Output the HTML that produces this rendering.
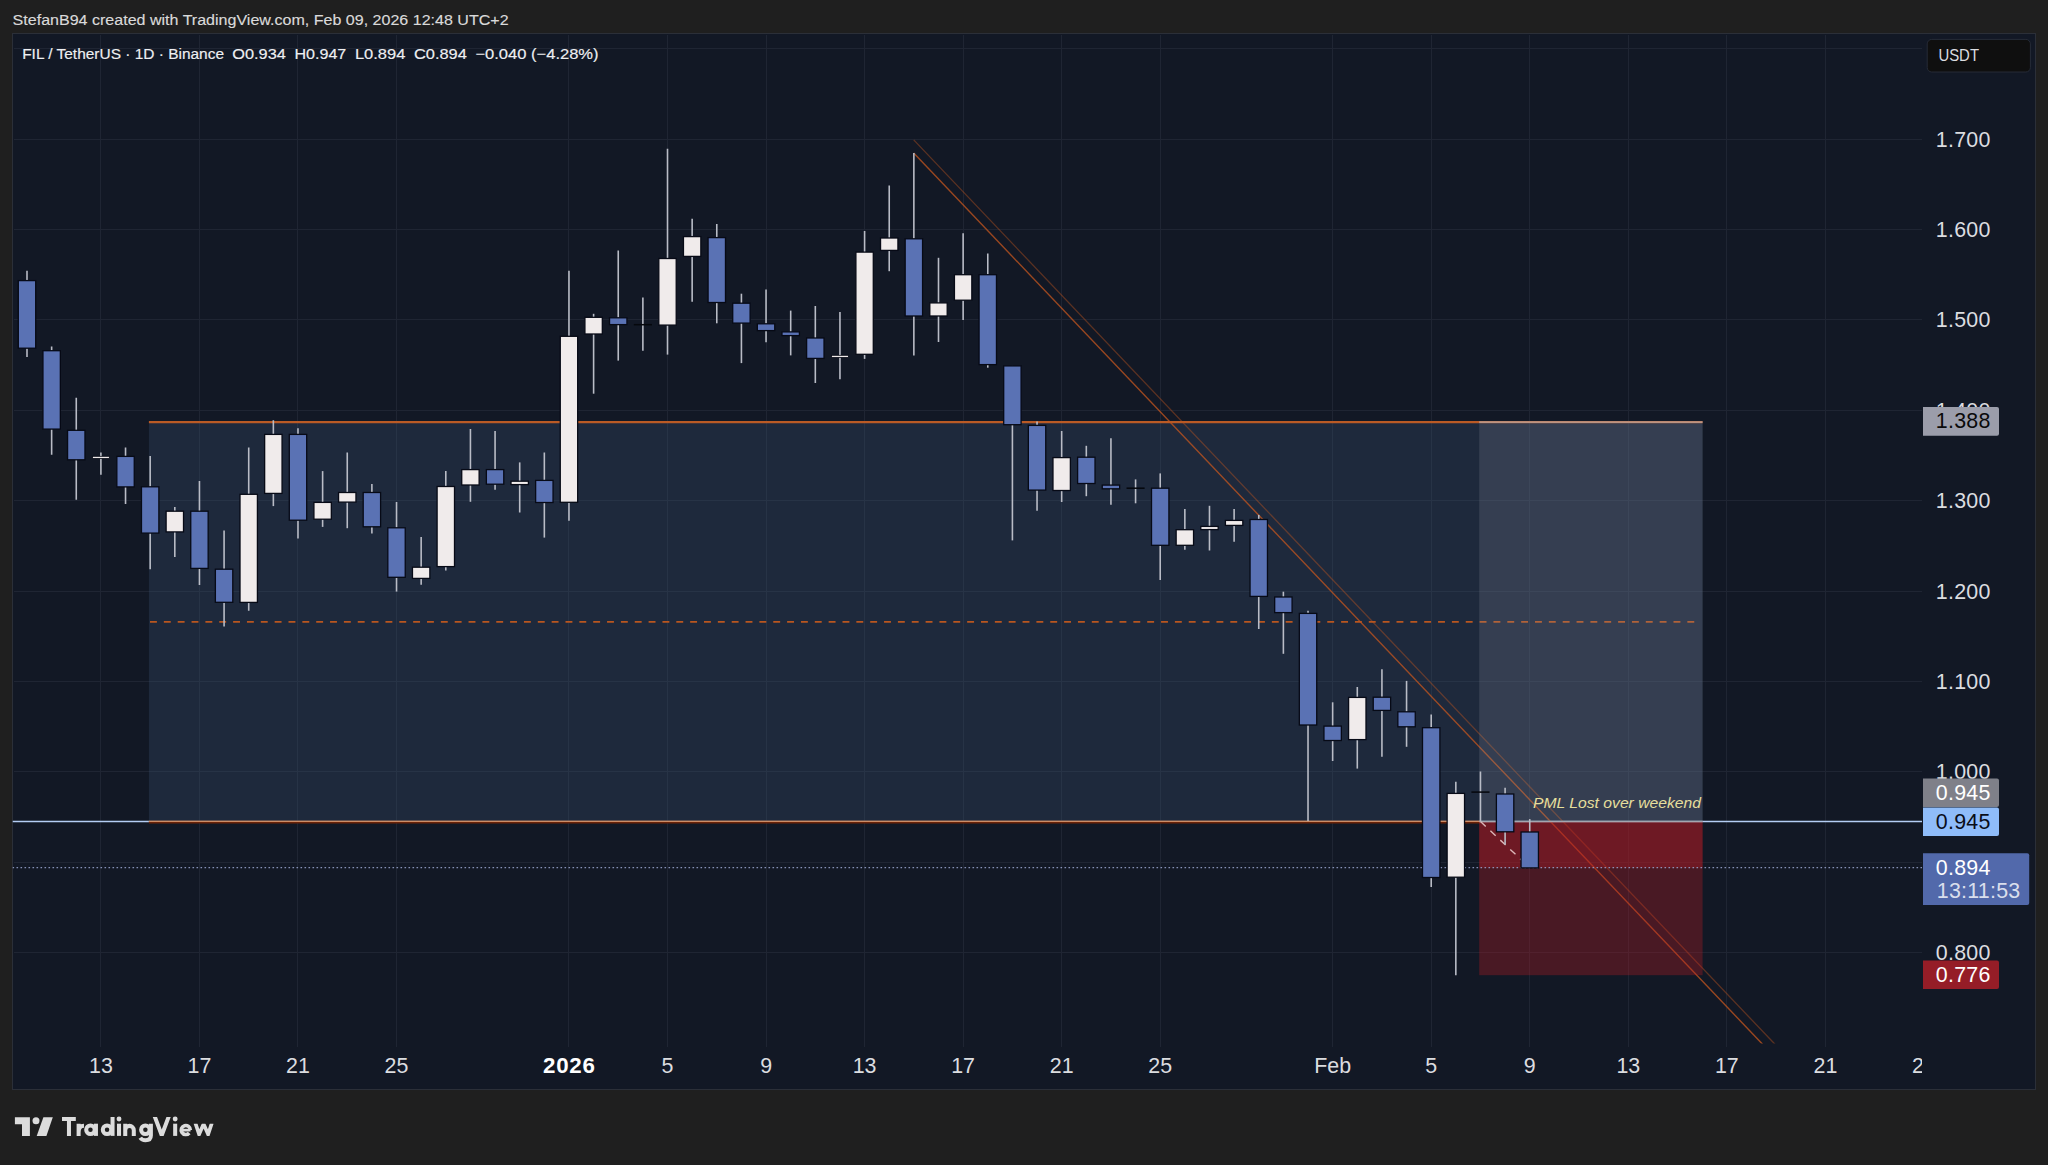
<!DOCTYPE html>
<html><head><meta charset="utf-8"><title>FIL / TetherUS</title>
<style>
html,body{margin:0;padding:0;background:#1f1f1f;}
body{width:2048px;height:1165px;overflow:hidden;position:relative;font-family:"Liberation Sans",sans-serif;}
svg{position:absolute;left:0;top:0;display:block;}
text{font-family:"Liberation Sans",sans-serif;}
</style></head><body>
<svg width="2048" height="1165" viewBox="0 0 2048 1165">
<defs>
<clipPath id="pane"><rect x="12.5" y="33.5" width="1909.5" height="1010.0"/></clipPath>
<clipPath id="taxis"><rect x="12.5" y="1043.5" width="1909.5" height="46.0"/></clipPath>
</defs>
<rect x="12.5" y="33.5" width="2023.0" height="1056.0" fill="#121825" stroke="#2b2f38" stroke-width="1"/>
<g stroke="#1f2533" stroke-width="1" shape-rendering="crispEdges">
<line x1="13.5" y1="48.5" x2="1922.0" y2="48.5"/>
<line x1="13.5" y1="139.5" x2="1922.0" y2="139.5"/>
<line x1="13.5" y1="229.5" x2="1922.0" y2="229.5"/>
<line x1="13.5" y1="319.5" x2="1922.0" y2="319.5"/>
<line x1="13.5" y1="410.5" x2="1922.0" y2="410.5"/>
<line x1="13.5" y1="500.5" x2="1922.0" y2="500.5"/>
<line x1="13.5" y1="591.5" x2="1922.0" y2="591.5"/>
<line x1="13.5" y1="681.5" x2="1922.0" y2="681.5"/>
<line x1="13.5" y1="771.5" x2="1922.0" y2="771.5"/>
<line x1="13.5" y1="862.5" x2="1922.0" y2="862.5"/>
<line x1="13.5" y1="952.5" x2="1922.0" y2="952.5"/>
<line x1="100.5" y1="34.5" x2="100.5" y2="1047.0"/>
<line x1="199.5" y1="34.5" x2="199.5" y2="1047.0"/>
<line x1="297.5" y1="34.5" x2="297.5" y2="1047.0"/>
<line x1="396.5" y1="34.5" x2="396.5" y2="1047.0"/>
<line x1="568.5" y1="34.5" x2="568.5" y2="1047.0"/>
<line x1="667.5" y1="34.5" x2="667.5" y2="1047.0"/>
<line x1="766.5" y1="34.5" x2="766.5" y2="1047.0"/>
<line x1="864.5" y1="34.5" x2="864.5" y2="1047.0"/>
<line x1="963.5" y1="34.5" x2="963.5" y2="1047.0"/>
<line x1="1061.5" y1="34.5" x2="1061.5" y2="1047.0"/>
<line x1="1160.5" y1="34.5" x2="1160.5" y2="1047.0"/>
<line x1="1332.5" y1="34.5" x2="1332.5" y2="1047.0"/>
<line x1="1431.5" y1="34.5" x2="1431.5" y2="1047.0"/>
<line x1="1529.5" y1="34.5" x2="1529.5" y2="1047.0"/>
<line x1="1628.5" y1="34.5" x2="1628.5" y2="1047.0"/>
<line x1="1726.5" y1="34.5" x2="1726.5" y2="1047.0"/>
<line x1="1825.5" y1="34.5" x2="1825.5" y2="1047.0"/>
</g>
<g clip-path="url(#pane)">
<line x1="12.5" y1="821.5" x2="1922.0" y2="821.5" stroke="#b4cdf4" stroke-width="1.4"/>
<rect x="148.9" y="422.1" width="1553.7" height="399.4" fill="#3f5779" fill-opacity="0.27"/>
<line x1="148.9" y1="422.1" x2="1702.6" y2="422.1" stroke="#ba5a25" stroke-width="2.3"/>
<line x1="148.9" y1="822.2" x2="1480.2" y2="822.2" stroke="#6a2207" stroke-width="2.8"/>
<line x1="148.9" y1="821.4" x2="1480.2" y2="821.4" stroke="#cc8c66" stroke-width="1.4"/>
<line x1="150.0" y1="621.8" x2="1697.0" y2="621.8" stroke="#b9561f" stroke-width="1.8" stroke-dasharray="6.9 6.95"/>
<line x1="913.7" y1="152.9" x2="1762.6" y2="1044.3" stroke="#c0551f" stroke-opacity="0.78" stroke-width="1.4"/>
<line x1="913.7" y1="139.9" x2="1775.0" y2="1044.3" stroke="#c0551f" stroke-opacity="0.42" stroke-width="1.3"/>
<rect x="1479.2" y="421.1" width="223.4" height="400.4" fill="#8f95a3" fill-opacity="0.2"/>
<line x1="1479.2" y1="422.1" x2="1702.6" y2="422.1" stroke="#c9ccd6" stroke-opacity="0.45" stroke-width="1.6"/>
<rect x="1479.2" y="821.5" width="223.4" height="153.7" fill="#b81a24" fill-opacity="0.33"/>
<rect x="1479.2" y="821.5" width="223.4" height="46.2" fill="#b81a24" fill-opacity="0.33"/>
<line x1="1479.2" y1="821.5" x2="1702.6" y2="821.5" stroke="#a3a6b0" stroke-width="1.4"/>
<line x1="1480.5" y1="821.5" x2="1529.7" y2="867.7" stroke="#dcb6b8" stroke-width="1.4" stroke-dasharray="7.2 6.4"/>
<line x1="12.5" y1="867.7" x2="1922.0" y2="867.7" stroke="#9aa6cf" stroke-opacity="0.85" stroke-width="1.3" stroke-dasharray="1.6 2.4"/>
</g>
<g clip-path="url(#pane)">
<line x1="27.00" y1="270.8" x2="27.00" y2="356.9" stroke="#b9bcc6" stroke-width="1.6"/>
<rect x="18.30" y="280.6" width="17.4" height="67.6" fill="#5a72b4" stroke="#070a16" stroke-width="1.3"/>
<line x1="51.64" y1="346.5" x2="51.64" y2="454.8" stroke="#b9bcc6" stroke-width="1.6"/>
<rect x="42.94" y="350.7" width="17.4" height="78.4" fill="#5a72b4" stroke="#070a16" stroke-width="1.3"/>
<line x1="76.27" y1="397.7" x2="76.27" y2="499.8" stroke="#b9bcc6" stroke-width="1.6"/>
<rect x="67.57" y="430.3" width="17.4" height="29.5" fill="#5a72b4" stroke="#070a16" stroke-width="1.3"/>
<line x1="100.91" y1="452.5" x2="100.91" y2="474.7" stroke="#b9bcc6" stroke-width="1.6"/>
<rect x="92.45" y="456.3" width="16.9" height="2.2" fill="#f0ebeb" stroke="#070a16" stroke-width="0.8"/>
<line x1="125.54" y1="447.6" x2="125.54" y2="504.0" stroke="#b9bcc6" stroke-width="1.6"/>
<rect x="116.84" y="456.4" width="17.4" height="30.5" fill="#5a72b4" stroke="#070a16" stroke-width="1.3"/>
<line x1="150.18" y1="456.0" x2="150.18" y2="569.3" stroke="#b9bcc6" stroke-width="1.6"/>
<rect x="141.47" y="486.8" width="17.4" height="46.3" fill="#5a72b4" stroke="#070a16" stroke-width="1.3"/>
<line x1="174.81" y1="507.0" x2="174.81" y2="556.9" stroke="#b9bcc6" stroke-width="1.6"/>
<rect x="166.11" y="511.2" width="17.4" height="20.7" fill="#f0ebeb" stroke="#070a16" stroke-width="1.3"/>
<line x1="199.45" y1="480.9" x2="199.45" y2="585.0" stroke="#b9bcc6" stroke-width="1.6"/>
<rect x="190.75" y="511.2" width="17.4" height="57.2" fill="#5a72b4" stroke="#070a16" stroke-width="1.3"/>
<line x1="224.08" y1="530.5" x2="224.08" y2="626.4" stroke="#b9bcc6" stroke-width="1.6"/>
<rect x="215.38" y="569.2" width="17.4" height="33.1" fill="#5a72b4" stroke="#070a16" stroke-width="1.3"/>
<line x1="248.72" y1="447.6" x2="248.72" y2="610.7" stroke="#b9bcc6" stroke-width="1.6"/>
<rect x="240.01" y="494.3" width="17.4" height="108.1" fill="#f0ebeb" stroke="#070a16" stroke-width="1.3"/>
<line x1="273.35" y1="420.2" x2="273.35" y2="506.1" stroke="#b9bcc6" stroke-width="1.6"/>
<rect x="264.65" y="434.4" width="17.4" height="59.0" fill="#f0ebeb" stroke="#070a16" stroke-width="1.3"/>
<line x1="297.99" y1="428.2" x2="297.99" y2="538.5" stroke="#b9bcc6" stroke-width="1.6"/>
<rect x="289.29" y="434.4" width="17.4" height="85.8" fill="#5a72b4" stroke="#070a16" stroke-width="1.3"/>
<line x1="322.62" y1="471.1" x2="322.62" y2="526.9" stroke="#b9bcc6" stroke-width="1.6"/>
<rect x="313.92" y="502.4" width="17.4" height="16.8" fill="#f0ebeb" stroke="#070a16" stroke-width="1.3"/>
<line x1="347.25" y1="452.5" x2="347.25" y2="528.2" stroke="#b9bcc6" stroke-width="1.6"/>
<rect x="338.56" y="492.5" width="17.4" height="9.6" fill="#f0ebeb" stroke="#070a16" stroke-width="1.3"/>
<line x1="371.89" y1="483.9" x2="371.89" y2="533.5" stroke="#b9bcc6" stroke-width="1.6"/>
<rect x="363.19" y="492.5" width="17.4" height="34.3" fill="#5a72b4" stroke="#070a16" stroke-width="1.3"/>
<line x1="396.53" y1="502.0" x2="396.53" y2="591.6" stroke="#b9bcc6" stroke-width="1.6"/>
<rect x="387.83" y="527.8" width="17.4" height="49.5" fill="#5a72b4" stroke="#070a16" stroke-width="1.3"/>
<line x1="421.16" y1="537.0" x2="421.16" y2="584.8" stroke="#b9bcc6" stroke-width="1.6"/>
<rect x="412.46" y="567.2" width="17.4" height="11.2" fill="#f0ebeb" stroke="#070a16" stroke-width="1.3"/>
<line x1="445.80" y1="471.1" x2="445.80" y2="570.6" stroke="#b9bcc6" stroke-width="1.6"/>
<rect x="437.10" y="486.5" width="17.4" height="80.1" fill="#f0ebeb" stroke="#070a16" stroke-width="1.3"/>
<line x1="470.43" y1="429.0" x2="470.43" y2="501.8" stroke="#b9bcc6" stroke-width="1.6"/>
<rect x="461.73" y="469.6" width="17.4" height="15.4" fill="#f0ebeb" stroke="#070a16" stroke-width="1.3"/>
<line x1="495.07" y1="430.9" x2="495.07" y2="489.8" stroke="#b9bcc6" stroke-width="1.6"/>
<rect x="486.37" y="469.6" width="17.4" height="14.6" fill="#5a72b4" stroke="#070a16" stroke-width="1.3"/>
<line x1="519.70" y1="462.4" x2="519.70" y2="512.5" stroke="#b9bcc6" stroke-width="1.6"/>
<rect x="511.00" y="481.2" width="17.4" height="3.4" fill="#f0ebeb" stroke="#070a16" stroke-width="1.3"/>
<line x1="544.34" y1="452.5" x2="544.34" y2="537.6" stroke="#b9bcc6" stroke-width="1.6"/>
<rect x="535.64" y="480.4" width="17.4" height="22.1" fill="#5a72b4" stroke="#070a16" stroke-width="1.3"/>
<line x1="568.97" y1="270.8" x2="568.97" y2="520.8" stroke="#b9bcc6" stroke-width="1.6"/>
<rect x="560.27" y="336.3" width="17.4" height="166.0" fill="#f0ebeb" stroke="#070a16" stroke-width="1.3"/>
<line x1="593.61" y1="313.8" x2="593.61" y2="393.7" stroke="#b9bcc6" stroke-width="1.6"/>
<rect x="584.91" y="317.3" width="17.4" height="16.7" fill="#f0ebeb" stroke="#070a16" stroke-width="1.3"/>
<line x1="618.24" y1="250.4" x2="618.24" y2="360.6" stroke="#b9bcc6" stroke-width="1.6"/>
<rect x="609.54" y="317.8" width="17.4" height="6.8" fill="#5a72b4" stroke="#070a16" stroke-width="1.3"/>
<line x1="642.88" y1="297.6" x2="642.88" y2="350.8" stroke="#b9bcc6" stroke-width="1.6"/>
<line x1="633.83" y1="324.7" x2="651.92" y2="324.7" stroke="#05070c" stroke-width="1.5"/>
<line x1="667.51" y1="148.7" x2="667.51" y2="354.6" stroke="#b9bcc6" stroke-width="1.6"/>
<rect x="658.81" y="258.5" width="17.4" height="66.6" fill="#f0ebeb" stroke="#070a16" stroke-width="1.3"/>
<line x1="692.15" y1="218.7" x2="692.15" y2="301.8" stroke="#b9bcc6" stroke-width="1.6"/>
<rect x="683.45" y="236.6" width="17.4" height="19.8" fill="#f0ebeb" stroke="#070a16" stroke-width="1.3"/>
<line x1="716.78" y1="224.0" x2="716.78" y2="323.3" stroke="#b9bcc6" stroke-width="1.6"/>
<rect x="708.08" y="237.6" width="17.4" height="64.9" fill="#5a72b4" stroke="#070a16" stroke-width="1.3"/>
<line x1="741.42" y1="293.7" x2="741.42" y2="363.1" stroke="#b9bcc6" stroke-width="1.6"/>
<rect x="732.72" y="303.2" width="17.4" height="19.9" fill="#5a72b4" stroke="#070a16" stroke-width="1.3"/>
<line x1="766.05" y1="289.5" x2="766.05" y2="342.3" stroke="#b9bcc6" stroke-width="1.6"/>
<rect x="757.35" y="323.8" width="17.4" height="6.8" fill="#5a72b4" stroke="#070a16" stroke-width="1.3"/>
<line x1="790.69" y1="310.6" x2="790.69" y2="355.4" stroke="#b9bcc6" stroke-width="1.6"/>
<rect x="781.99" y="331.9" width="17.4" height="3.7" fill="#5a72b4" stroke="#070a16" stroke-width="1.3"/>
<line x1="815.32" y1="306.0" x2="815.32" y2="383.0" stroke="#b9bcc6" stroke-width="1.6"/>
<rect x="806.62" y="338.0" width="17.4" height="20.4" fill="#5a72b4" stroke="#070a16" stroke-width="1.3"/>
<line x1="839.96" y1="312.0" x2="839.96" y2="379.3" stroke="#b9bcc6" stroke-width="1.6"/>
<rect x="831.51" y="355.3" width="16.9" height="2.2" fill="#f0ebeb" stroke="#070a16" stroke-width="0.8"/>
<line x1="864.59" y1="231.0" x2="864.59" y2="358.9" stroke="#b9bcc6" stroke-width="1.6"/>
<rect x="855.89" y="252.1" width="17.4" height="102.2" fill="#f0ebeb" stroke="#070a16" stroke-width="1.3"/>
<line x1="889.23" y1="185.6" x2="889.23" y2="271.2" stroke="#b9bcc6" stroke-width="1.6"/>
<rect x="880.53" y="238.0" width="17.4" height="12.4" fill="#f0ebeb" stroke="#070a16" stroke-width="1.3"/>
<line x1="913.86" y1="152.9" x2="913.86" y2="355.4" stroke="#b9bcc6" stroke-width="1.6"/>
<rect x="905.16" y="238.8" width="17.4" height="77.2" fill="#5a72b4" stroke="#070a16" stroke-width="1.3"/>
<line x1="938.50" y1="257.8" x2="938.50" y2="342.0" stroke="#b9bcc6" stroke-width="1.6"/>
<rect x="929.80" y="302.9" width="17.4" height="13.1" fill="#f0ebeb" stroke="#070a16" stroke-width="1.3"/>
<line x1="963.13" y1="233.2" x2="963.13" y2="320.1" stroke="#b9bcc6" stroke-width="1.6"/>
<rect x="954.43" y="274.7" width="17.4" height="25.5" fill="#f0ebeb" stroke="#070a16" stroke-width="1.3"/>
<line x1="987.77" y1="253.6" x2="987.77" y2="367.7" stroke="#b9bcc6" stroke-width="1.6"/>
<rect x="979.07" y="274.7" width="17.4" height="89.9" fill="#5a72b4" stroke="#070a16" stroke-width="1.3"/>
<line x1="1012.40" y1="365.9" x2="1012.40" y2="540.4" stroke="#b9bcc6" stroke-width="1.6"/>
<rect x="1003.70" y="365.9" width="17.4" height="58.8" fill="#5a72b4" stroke="#070a16" stroke-width="1.3"/>
<line x1="1037.04" y1="421.4" x2="1037.04" y2="510.8" stroke="#b9bcc6" stroke-width="1.6"/>
<rect x="1028.34" y="425.4" width="17.4" height="64.7" fill="#5a72b4" stroke="#070a16" stroke-width="1.3"/>
<line x1="1061.67" y1="431.0" x2="1061.67" y2="502.0" stroke="#b9bcc6" stroke-width="1.6"/>
<rect x="1052.97" y="457.6" width="17.4" height="32.9" fill="#f0ebeb" stroke="#070a16" stroke-width="1.3"/>
<line x1="1086.31" y1="445.8" x2="1086.31" y2="496.2" stroke="#b9bcc6" stroke-width="1.6"/>
<rect x="1077.61" y="457.2" width="17.4" height="26.3" fill="#5a72b4" stroke="#070a16" stroke-width="1.3"/>
<line x1="1110.94" y1="438.2" x2="1110.94" y2="504.7" stroke="#b9bcc6" stroke-width="1.6"/>
<rect x="1102.24" y="485.1" width="17.4" height="3.7" fill="#5a72b4" stroke="#070a16" stroke-width="1.3"/>
<line x1="1135.58" y1="479.4" x2="1135.58" y2="503.3" stroke="#b9bcc6" stroke-width="1.6"/>
<line x1="1126.53" y1="488.2" x2="1144.62" y2="488.2" stroke="#05070c" stroke-width="1.5"/>
<line x1="1160.21" y1="473.4" x2="1160.21" y2="580.0" stroke="#b9bcc6" stroke-width="1.6"/>
<rect x="1151.51" y="488.2" width="17.4" height="57.1" fill="#5a72b4" stroke="#070a16" stroke-width="1.3"/>
<line x1="1184.85" y1="508.9" x2="1184.85" y2="549.8" stroke="#b9bcc6" stroke-width="1.6"/>
<rect x="1176.14" y="529.7" width="17.4" height="15.6" fill="#f0ebeb" stroke="#070a16" stroke-width="1.3"/>
<line x1="1209.48" y1="505.8" x2="1209.48" y2="550.5" stroke="#b9bcc6" stroke-width="1.6"/>
<rect x="1200.78" y="526.4" width="17.4" height="3.2" fill="#f0ebeb" stroke="#070a16" stroke-width="1.3"/>
<line x1="1234.12" y1="508.9" x2="1234.12" y2="541.7" stroke="#b9bcc6" stroke-width="1.6"/>
<rect x="1225.41" y="520.4" width="17.4" height="5.0" fill="#f0ebeb" stroke="#070a16" stroke-width="1.3"/>
<line x1="1258.75" y1="514.9" x2="1258.75" y2="629.0" stroke="#b9bcc6" stroke-width="1.6"/>
<rect x="1250.05" y="519.5" width="17.4" height="76.9" fill="#5a72b4" stroke="#070a16" stroke-width="1.3"/>
<line x1="1283.38" y1="591.7" x2="1283.38" y2="653.8" stroke="#b9bcc6" stroke-width="1.6"/>
<rect x="1274.68" y="597.0" width="17.4" height="15.6" fill="#5a72b4" stroke="#070a16" stroke-width="1.3"/>
<line x1="1308.02" y1="610.8" x2="1308.02" y2="821.0" stroke="#b9bcc6" stroke-width="1.6"/>
<rect x="1299.32" y="613.4" width="17.4" height="111.6" fill="#5a72b4" stroke="#070a16" stroke-width="1.3"/>
<line x1="1332.65" y1="702.3" x2="1332.65" y2="761.0" stroke="#b9bcc6" stroke-width="1.6"/>
<rect x="1323.95" y="726.1" width="17.4" height="14.4" fill="#5a72b4" stroke="#070a16" stroke-width="1.3"/>
<line x1="1357.29" y1="687.0" x2="1357.29" y2="768.6" stroke="#b9bcc6" stroke-width="1.6"/>
<rect x="1348.59" y="697.4" width="17.4" height="42.2" fill="#f0ebeb" stroke="#070a16" stroke-width="1.3"/>
<line x1="1381.93" y1="669.2" x2="1381.93" y2="756.7" stroke="#b9bcc6" stroke-width="1.6"/>
<rect x="1373.23" y="697.2" width="17.4" height="13.2" fill="#5a72b4" stroke="#070a16" stroke-width="1.3"/>
<line x1="1406.56" y1="680.9" x2="1406.56" y2="746.8" stroke="#b9bcc6" stroke-width="1.6"/>
<rect x="1397.86" y="711.8" width="17.4" height="15.0" fill="#5a72b4" stroke="#070a16" stroke-width="1.3"/>
<line x1="1431.20" y1="714.6" x2="1431.20" y2="887.1" stroke="#b9bcc6" stroke-width="1.6"/>
<rect x="1422.50" y="727.7" width="17.4" height="149.8" fill="#5a72b4" stroke="#070a16" stroke-width="1.3"/>
<line x1="1455.83" y1="781.7" x2="1455.83" y2="975.2" stroke="#b9bcc6" stroke-width="1.6"/>
<rect x="1447.13" y="793.4" width="17.4" height="83.8" fill="#f0ebeb" stroke="#070a16" stroke-width="1.3"/>
<line x1="1480.47" y1="771.5" x2="1480.47" y2="821.4" stroke="#b9bcc6" stroke-width="1.6"/>
<line x1="1471.42" y1="792.1" x2="1489.52" y2="792.1" stroke="#05070c" stroke-width="1.5"/>
<line x1="1505.10" y1="787.8" x2="1505.10" y2="844.4" stroke="#b9bcc6" stroke-width="1.6"/>
<rect x="1496.40" y="794.0" width="17.4" height="37.8" fill="#5a72b4" stroke="#070a16" stroke-width="1.3"/>
<line x1="1529.74" y1="819.1" x2="1529.74" y2="867.8" stroke="#b9bcc6" stroke-width="1.6"/>
<rect x="1521.04" y="832.0" width="17.4" height="35.9" fill="#5a72b4" stroke="#070a16" stroke-width="1.3"/>
</g>
<text x="1533" y="808" font-size="15.4" font-style="italic" fill="#e6df9c" textLength="168" lengthAdjust="spacingAndGlyphs">PML Lost over weekend</text>
<text x="1935.8" y="146.5" font-size="21.4" letter-spacing="0.25" fill="#dcdde0" >1.700</text>
<text x="1935.8" y="236.9" font-size="21.4" letter-spacing="0.25" fill="#dcdde0" >1.600</text>
<text x="1935.8" y="327.3" font-size="21.4" letter-spacing="0.25" fill="#dcdde0" >1.500</text>
<text x="1935.8" y="417.7" font-size="21.4" letter-spacing="0.25" fill="#dcdde0" >1.400</text>
<text x="1935.8" y="508.1" font-size="21.4" letter-spacing="0.25" fill="#dcdde0" >1.300</text>
<text x="1935.8" y="598.5" font-size="21.4" letter-spacing="0.25" fill="#dcdde0" >1.200</text>
<text x="1935.8" y="688.9" font-size="21.4" letter-spacing="0.25" fill="#dcdde0" >1.100</text>
<text x="1935.8" y="779.3" font-size="21.4" letter-spacing="0.25" fill="#dcdde0" >1.000</text>
<text x="1935.8" y="960.1" font-size="21.4" letter-spacing="0.25" fill="#dcdde0" >0.800</text>
<path d="M1923.0 407.0 H1997.0 a2 2 0 0 1 2 2 V433.8 a2 2 0 0 1 -2 2 H1923.0 Z" fill="#9b9daa"/>
<text x="1935.8" y="428.0" font-size="21.4" letter-spacing="0.25" fill="#0a0a0a" >1.388</text>
<path d="M1923.0 778.5 H1997.0 a2 2 0 0 1 2 2 V805.0 a2 2 0 0 1 -2 2 H1923.0 Z" fill="#7f8089"/>
<text x="1935.8" y="800.2" font-size="21.4" letter-spacing="0.25" fill="#ffffff" >0.945</text>
<path d="M1923.0 807.4 H1997.0 a2 2 0 0 1 2 2 V834.0 a2 2 0 0 1 -2 2 H1923.0 Z" fill="#8fbcf9"/>
<text x="1935.8" y="828.6" font-size="21.4" letter-spacing="0.25" fill="#0a0d18" >0.945</text>
<path d="M1923.0 853.2 H2027.2 a2 2 0 0 1 2 2 V903.0 a2 2 0 0 1 -2 2 H1923.0 Z" fill="#5269ab"/>
<text x="1935.8" y="874.6" font-size="21.4" letter-spacing="0.25" fill="#ffffff" >0.894</text>
<text x="1936.8" y="897.8" font-size="21.4" letter-spacing="0.25" fill="#ffffff" fill-opacity="0.8">13:11:53</text>
<path d="M1923.0 960.6 H1997.0 a2 2 0 0 1 2 2 V987.0 a2 2 0 0 1 -2 2 H1923.0 Z" fill="#951d27"/>
<text x="1935.8" y="981.6" font-size="21.4" letter-spacing="0.25" fill="#ffffff" >0.776</text>
<rect x="1927.2" y="39.4" width="103.2" height="32.6" rx="4.5" fill="#0f0f0f" stroke="#262b37" stroke-width="1"/>
<text x="1938.4" y="61.0" font-size="16.4" fill="#dcdde0" textLength="40.6" lengthAdjust="spacingAndGlyphs">USDT</text>
<g clip-path="url(#taxis)" font-size="21.4" fill="#dcdde0" text-anchor="middle">
<text x="100.9" y="1073.1">13</text>
<text x="199.4" y="1073.1">17</text>
<text x="298.0" y="1073.1">21</text>
<text x="396.5" y="1073.1">25</text>
<text x="569.3" y="1073.1" font-weight="bold" font-size="22.3" letter-spacing="0.7" fill="#ffffff">2026</text>
<text x="667.5" y="1073.1">5</text>
<text x="766.1" y="1073.1">9</text>
<text x="864.6" y="1073.1">13</text>
<text x="963.1" y="1073.1">17</text>
<text x="1061.7" y="1073.1">21</text>
<text x="1160.2" y="1073.1">25</text>
<text x="1332.7" y="1073.1">Feb</text>
<text x="1431.2" y="1073.1">5</text>
<text x="1529.7" y="1073.1">9</text>
<text x="1628.3" y="1073.1">13</text>
<text x="1726.8" y="1073.1">17</text>
<text x="1825.4" y="1073.1">21</text>
<text x="1923.9" y="1073.1">25</text>
</g>
<text x="12.6" y="25.1" font-size="15.5" fill="#dadada" stroke="#dadada" stroke-width="0.15" textLength="496" lengthAdjust="spacingAndGlyphs">StefanB94 created with TradingView.com, Feb 09, 2026 12:48 UTC+2</text>
<text x="22.2" y="59.2" font-size="14.9" fill="#eeeff2" stroke="#eeeff2" stroke-width="0.15" textLength="201.8" lengthAdjust="spacingAndGlyphs">FIL / TetherUS · 1D · Binance</text>
<text x="232.3" y="59.2" font-size="14.9" fill="#eeeff2" stroke="#eeeff2" stroke-width="0.15" textLength="53.5" lengthAdjust="spacingAndGlyphs">O0.934</text>
<text x="294.4" y="59.2" font-size="14.9" fill="#eeeff2" stroke="#eeeff2" stroke-width="0.15" textLength="51.9" lengthAdjust="spacingAndGlyphs">H0.947</text>
<text x="354.9" y="59.2" font-size="14.9" fill="#eeeff2" stroke="#eeeff2" stroke-width="0.15" textLength="50.5" lengthAdjust="spacingAndGlyphs">L0.894</text>
<text x="414.0" y="59.2" font-size="14.9" fill="#eeeff2" stroke="#eeeff2" stroke-width="0.15" textLength="52.8" lengthAdjust="spacingAndGlyphs">C0.894</text>
<text x="475.4" y="59.2" font-size="14.9" fill="#eeeff2" stroke="#eeeff2" stroke-width="0.15" textLength="123.2" lengthAdjust="spacingAndGlyphs">−0.040 (−4.28%)</text>
<g fill="#dcdcdc">
<path d="M14.9 1117.2 H29.9 V1135.9 H22.0 V1124.3 H14.9 Z"/>
<circle cx="36.0" cy="1120.8" r="3.5"/>
<path d="M43.4 1117.2 H52.8 L46.4 1135.9 H36.7 Z"/>
</g>
<defs><clipPath id="capclip"><rect x="1200" y="180" width="260" height="155"/></clipPath><clipPath id="xclip"><rect x="1560" y="235" width="220" height="100"/></clipPath></defs>
<g transform="translate(0,1095) scale(0.1220703)" fill="none" stroke="#dcdcdc" stroke-width="33" stroke-linecap="butt" stroke-linejoin="miter" stroke-miterlimit="10">
<path d="M508 196.5 H621 M565 180 V335"/>
<path d="M644 235 V335 M644 305 C644 268 660 252 688 252"/>
<circle cx="741" cy="285" r="35"/><path d="M786 235 V335"/>
<circle cx="877" cy="285" r="35"/><path d="M922 180 V335"/>
<path d="M975 235 V335"/><circle cx="975" cy="197" r="20" fill="#dcdcdc" stroke="none"/>
<path d="M1026 235 V335 M1026 295 V288 a35 35 0 0 1 70 0 V335"/>
<circle cx="1191" cy="285" r="35"/><path d="M1236 235 V332 C1236 360 1218 371 1192 371 C1172 371 1158 364 1149 350"/>
<g clip-path="url(#capclip)"><path d="M1267 175 L1325 330 L1383 175"/></g>
<path d="M1435 235 V335"/><circle cx="1435" cy="197" r="20" fill="#dcdcdc" stroke="none"/>
<path d="M1559 287 A37 37 0 1 0 1550 311" stroke-width="30"/><path d="M1490 288 H1561" stroke-width="22"/>
<g clip-path="url(#xclip)"><path d="M1600 228 L1631 322 L1668 238 L1705 322 L1736 228" stroke-width="30"/></g>
</g>
</svg>
</body></html>
